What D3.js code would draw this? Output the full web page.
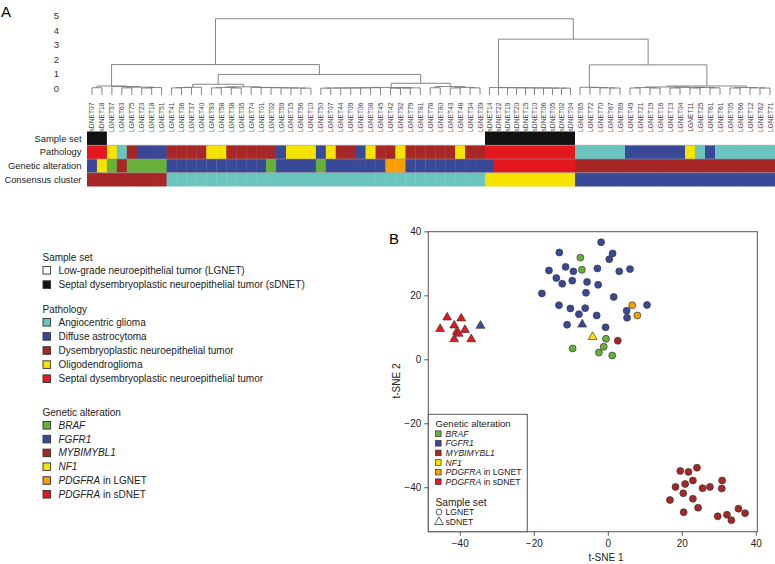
<!DOCTYPE html>
<html>
<head>
<meta charset="utf-8">
<script src="https://cdn.jsdelivr.net/npm/d3@7"></script>
<style>
  body { margin: 0; background: #fff; }
  svg { font-family: "Liberation Sans", Arial, Helvetica, sans-serif; }
</style>
</head>
<body>
<svg id="chart" width="775" height="564"></svg>
<script>
// ---- panel A data ----
const sampleLabels = ["sDNET07","sDNET18","LGNET57","LGNET63","LGNET75","LGNET23","LGNET18","LGNET51","LGNET41","LGNET36",
  "LGNET37","LGNET40","LGNET93","LGNET58","LGNET38","LGNET35","LGNET74","LGNET01","LGNET02","LGNET59",
  "LGNET15","LGNET56","LGNET10","LGNET50","LGNET07","LGNET44","LGNET09","LGNET06","LGNET08","LGNET45",
  "LGNET42","LGNET92","LGNET79","LGNET81","LGNET78","LGNET80","LGNET43","LGNET48","LGNET34","LGNET39",
  "sDNET14","sDNET22","sDNET19","sDNET20","sDNET15","sDNET10","sDNET06","sDNET05","sDNET02","sDNET04",
  "LGNET65","LGNET72","LGNET70","LGNET67","LGNET69","LGNET49","LGNET21","LGNET19","LGNET16","LGNET13",
  "LGNET04","LGNET11","LGNET25","LGNET61","LGNET61","LGNET05","LGNET66","LGNET12","LGNET62","LGNET71"];

// one code per sample (L = LGNET, S = sDNET)
const sampleSet   = "SSLLLLLLLLLLLLLLLLLLLLLLLLLLLLLLLLLLLLLLSSSSSSSSSSLLLLLLLLLLLLLLLLLLLL".split("");
// A angiocentric, F diffuse astro, D DNET, O oligo, S septal DNET
const pathology   = "SSOADFFFDDDDOODDDDDFOOOFODDFODDODDDDDODDSSSSSSSSSSAAAAAFFFFFFOAFAAAAAA".split("");
// B BRAF, F FGFR1, M MYB/MYBL1, N NF1, P PDGFRA LGNET, S PDGFRA sDNET
const genetic     = "FNBMBBBBFFFFFFFFFFBFFFFBFFFFFFPPFFFFFFFFFSSSSSSSSSMMMMMMMMMMMMMMMMMMMM".split("");
// consensus cluster 1..4
const consensus   = "1111111122222222222222222222222222222222333333333344444444444444444444".split("");

// dendrogram: [left, right, height], leaves are column indexes
const clusterL1 = [[0, 1, 0.04], [2, [[3, 4, 0.03], [[5, 6, 0.02], 7, 0.05], 0.08], 0.12], 0.16];
const clusterA2 = [[[[8, 9, 0.03], 10, 0.05], 11, 0.07],
  [[[12, 13, 0.03], [14, 15, 0.02], 0.06], [16, [17, [18, [19, [20, [21, 22, 0.01], 0.02], 0.03], 0.04], 0.05], 0.06], 0.1], 0.28];
const clusterA3 = [[[[[[[[23, 24, 0.01], 25, 0.02], 26, 0.02], 27, 0.03], 28, 0.03], 29, 0.04], [[[30, 31, 0.01], 32, 0.02], 33, 0.03], 0.06],
  [[34, 35, 0.04], [[36, 37, 0.02], [38, 39, 0.03], 0.06], 0.12], 0.35];
const clusterS = [40, [41, [42, [43, [44, [45, [46, [47, [48, 49, 0.01], 0.015], 0.02], 0.025], 0.03], 0.035], 0.04], 0.045], 0.05];
const clusterR3 = [50, [51, [52, [53, 54, 0.02], 0.03], 0.05], 0.07];
const clusterR4 = [[[[55, 56, 0.02], [57, 58, 0.02], 0.05], [[59, 60, 0.02], [[61, 62, 0.02], [63, 64, 0.03], 0.05], 0.07], 0.09],
  [[65, 66, 0.02], [67, [68, 69, 0.02], 0.03], 0.05], 0.16];
const dendroTree = [[clusterL1, [clusterA2, clusterA3, 0.96], 1.64],
                    [clusterS, [clusterR3, clusterR4, 1.62], 3.40], 4.81];
const dendroTicks = [0, 1, 2, 3, 4, 5];

const rowNames = ["Sample set", "Pathology", "Genetic alteration", "Consensus cluster"];

// ---- panel B data (t-SNE) ----
const tsne1 = [-1.8,-13.1,1.3,0.4,-11.4,-9.3,-2.8,3.1,6.0,-15.9,-13.9,-12.3,-9.6,-5.6,-2.6,-17.8,-5.9,1.6,-13.2,-10.1,-6.1,-7.8,-3.0,5.1,5.2,10.6,-11.0,-0.6,
  -7.4,-7.0,-0.5,-9.5,-1.1,-2.4,1.2,
  6.6,8.0,
  2.7,
  19.6,21.8,24.1,23.0,18.3,20.9,25.6,27.6,30.9,30.8,16.8,20.4,23.0,24.4,20.5,29.7,32.2,33.4,35.3,37.1,
  -4.1,
  -6.9,-34.4,
  -43.4,-39.6,-45.3,-41.5,-40.8,-38.6,-41.5,-36.9,-40.3];
const tsne2 = [36.6,33.4,33.1,31.3,28.9,27.5,28.4,27.5,28.2,27.8,25.4,23.6,24.6,24.2,23.3,20.6,20.8,19.5,16.9,15.9,16.0,14.1,13.7,15.2,13.0,17.0,10.8,10.0,
  31.8,28.0,6.4,3.4,3.9,2.1,1.2,
  16.9,13.7,
  5.8,
  -34.9,-35.2,-33.9,-37.9,-39.9,-39.0,-40.3,-39.9,-37.9,-40.4,-44.0,-41.9,-43.6,-46.4,-47.8,-49.1,-48.6,-50.3,-46.7,-48.1,
  7.0,
  10.9,10.5,
  13.1,12.8,9.5,10.6,8.6,9.2,6.3,6.3,8.0];
const tsneAlt = [..."FFFFFFFFFFFFFFFFFFFFFFFFFFFF", ..."BBBBBBB", "P", "P", "M", ..."MMMMMMMMMMMMMMMMMMMM", "N", "F", "F", ..."SSSSSSSSS"];
const tsneSet = [...Array(58).fill("L"), ..."SSSSSSSSSSSS"];
const tsneTicks = [-40, -20, 0, 20, 40];

// ---- colours & legend text ----
const geneColor = { B: "#67b13b", F: "#3a4898", M: "#a72626", N: "#f4e400", P: "#f5a000", S: "#e3171d" };
const pathColor = { A: "#6cc4bf", F: "#3a4898", D: "#a72626", O: "#f4e400", S: "#e3171d" };
const setColor = { L: "#ffffff", S: "#111111" };
const clusterColor = { "1": "#a72626", "2": "#6cc4bf", "3": "#f4e400", "4": "#3a4898" };

const setLegend = [["L", "Low-grade neuroepithelial tumor (LGNET)"], ["S", "Septal dysembryoplastic neuroepithelial tumor (sDNET)"]];
const pathLegend = [["A", "Angiocentric glioma"], ["F", "Diffuse astrocytoma"], ["D", "Dysembryoplastic neuroepithelial tumor"],
  ["O", "Oligodendroglioma"], ["S", "Septal dysembryoplastic neuroepithelial tumor"]];
const geneLegend = [["B", "BRAF", ""], ["F", "FGFR1", ""], ["M", "MYBIMYBL1", ""], ["N", "NF1", ""],
  ["P", "PDGFRA", " in LGNET"], ["S", "PDGFRA", " in sDNET"]];

const svg = d3.select("#chart");

// ---------- panel A ----------
svg.append("text").attr("x", 1).attr("y", 17).style("font-size", "15px").text("A");

const xCol = d3.scaleLinear().domain([0, 40, 50, 70]).range([87, 485, 575, 775]);
const colMid = i => (xCol(i) + xCol(i + 1)) / 2;
const yDen = d3.scaleLinear().domain([0, 5]).range([88.3, 16]);
const leafH = -0.46;

svg.append("g").selectAll("text").data(dendroTicks).join("text")
  .attr("x", 59).attr("y", d => yDen(d)).attr("dy", "0.35em")
  .attr("text-anchor", "end").style("font-size", "9.5px").attr("fill", "#333")
  .text(d => d);

const gDen = svg.append("g").attr("stroke", "#777").attr("stroke-width", 0.9).attr("fill", "none");
function drawNode(n) {
  if (typeof n === "number") return { x: colMid(n), h: leafH };
  const a = drawNode(n[0]), b = drawNode(n[1]), h = n[2];
  const y = yDen(h);
  gDen.append("path").attr("d", `M${a.x},${yDen(a.h)}V${y}H${b.x}V${yDen(b.h)}`);
  return { x: (a.x + b.x) / 2, h: h };
}
drawNode(dendroTree);

svg.append("g").selectAll("text").data(sampleLabels).join("text")
  .attr("transform", (d, i) => `translate(${colMid(i)},102.5)rotate(-90)`)
  .attr("text-anchor", "end").attr("dominant-baseline", "central")
  .style("font-size", "6.7px").attr("fill", "#444")
  .text(d => d);

const yRow = d3.scaleBand().domain(rowNames).range([131.5, 186.5]);
const rowData = [sampleSet.map(k => setColor[k]), pathology.map(k => pathColor[k]),
  genetic.map(k => geneColor[k]), consensus.map(k => clusterColor[k])];
rowNames.forEach((name, r) => {
  svg.append("g").selectAll("rect").data(rowData[r]).join("rect")
    .attr("x", (d, i) => xCol(i)).attr("width", (d, i) => xCol(i + 1) - xCol(i) + 0.3)
    .attr("y", yRow(name)).attr("height", yRow.bandwidth())
    .attr("fill", d => d);
  svg.append("text").attr("x", 81.5).attr("y", yRow(name) + yRow.bandwidth() / 2).attr("dy", "0.35em")
    .attr("text-anchor", "end").style("font-size", "9.4px").attr("fill", "#222").text(name);
});
svg.append("g").selectAll("line").data(rowNames.slice(1)).join("line")
  .attr("x1", 87).attr("x2", 775).attr("y1", d => yRow(d)).attr("y2", d => yRow(d))
  .attr("stroke", "#999").attr("stroke-width", 0.6);

// panel A legend
function legendBlock(title, yTitle, items, colors, step) {
  svg.append("text").attr("x", 42.5).attr("y", yTitle).attr("dy", "0.35em")
    .style("font-size", "10px").attr("fill", "#222").text(title);
  const g = svg.append("g").selectAll("g").data(items).join("g")
    .attr("transform", (d, i) => `translate(0,${yTitle + 13 + i * step})`);
  g.append("rect").attr("x", 43).attr("y", -3.8).attr("width", 7.6).attr("height", 7.6)
    .attr("fill", d => colors[d[0]]).attr("stroke", "#333").attr("stroke-width", 0.9);
  const t = g.append("text").attr("x", 58.5).attr("dy", "0.35em").style("font-size", "10px").attr("fill", "#222");
  t.append("tspan").style("font-style", d => d.length > 2 ? "italic" : null).text(d => d[1]);
  t.append("tspan").text(d => d[2] || "");
}
legendBlock("Sample set", 257.3, setLegend, setColor, 14.3);
legendBlock("Pathology", 309.3, pathLegend, pathColor, 14.1);
legendBlock("Genetic alteration", 412.3, geneLegend, geneColor, 13.8);

// ---------- panel B ----------
svg.append("text").attr("x", 389).attr("y", 244).style("font-size", "15px").text("B");

const xS = d3.scaleLinear().domain([-48.5, 40.4]).range([428.3, 757.3]);
const yS = d3.scaleLinear().domain([-53.9, 39.9]).range([531.7, 231.7]);

const xAxis = svg.append("g").attr("transform", "translate(0,531.7)")
  .call(d3.axisBottom(xS).tickValues(tsneTicks).tickSize(4).tickPadding(4));
const yAxis = svg.append("g").attr("transform", "translate(428.3,0)")
  .call(d3.axisLeft(yS).tickValues(tsneTicks).tickSize(4).tickPadding(3));
[xAxis, yAxis].forEach(a => {
  a.select(".domain").remove();
  a.selectAll("line").attr("stroke", "#555");
  a.selectAll("text").style("font-size", "10px").attr("fill", "#222")
    .style("font-family", "'Liberation Sans', Arial, sans-serif");
});
svg.append("rect").attr("x", 428.3).attr("y", 231.7).attr("width", 329).attr("height", 300)
  .attr("fill", "none").attr("stroke", "#555").attr("stroke-width", 1);
svg.append("text").attr("x", 606).attr("y", 561).attr("text-anchor", "middle")
  .style("font-size", "10px").attr("fill", "#222").text("t-SNE 1");
svg.append("text").attr("transform", "translate(400,381)rotate(-90)").attr("text-anchor", "middle")
  .style("font-size", "10px").attr("fill", "#222").text("t-SNE 2");

const pts = tsne1.map((x, i) => ({ x, y: tsne2[i], alt: tsneAlt[i], set: tsneSet[i] }));
svg.append("g").selectAll("path").data(pts).join("path")
  .attr("transform", d => `translate(${xS(d.x)},${yS(d.y)})`)
  .attr("d", d => d.set === "S" ? d3.symbol(d3.symbolTriangle, 34)() : d3.symbol(d3.symbolCircle, 38)())
  .attr("fill", d => geneColor[d.alt]).attr("stroke", "#3a3a3a").attr("stroke-width", 0.7);

// t-SNE legend
const lg = svg.append("g");
lg.append("rect").attr("x", 428.3).attr("y", 414.3).attr("width", 99).attr("height", 117.4)
  .attr("fill", "#fff").attr("stroke", "#555").attr("stroke-width", 1);
lg.append("text").attr("x", 435.5).attr("y", 424).attr("dy", "0.35em").style("font-size", "9.6px").attr("fill", "#222").text("Genetic alteration");
const li = lg.selectAll("g.item").data(geneLegend).join("g").attr("class", "item")
  .attr("transform", (d, i) => `translate(0,${433.7 + i * 9.6})`);
li.append("rect").attr("x", 435.5).attr("y", -2.8).attr("width", 5.6).attr("height", 5.6)
  .attr("fill", d => geneColor[d[0]]).attr("stroke", "#333").attr("stroke-width", 0.7);
const lt = li.append("text").attr("x", 445.5).attr("dy", "0.35em").style("font-size", "8.6px").attr("fill", "#222");
lt.append("tspan").style("font-style", "italic").text(d => d[1]);
lt.append("tspan").text(d => d[2]);

lg.append("text").attr("x", 435.5).attr("y", 502).attr("dy", "0.35em").style("font-size", "10.2px").attr("fill", "#222").text("Sample set");
const si = lg.selectAll("g.set").data([["L", "LGNET"], ["S", "sDNET"]]).join("g").attr("class", "set")
  .attr("transform", (d, i) => `translate(439,${512 + i * 10})`);
si.append("path").attr("d", d => d[0] === "S" ? d3.symbol(d3.symbolTriangle, 34)() : d3.symbol(d3.symbolCircle, 26)())
  .attr("fill", "none").attr("stroke", "#333").attr("stroke-width", 0.8);
si.append("text").attr("x", 6.5).attr("dy", "0.35em").style("font-size", "8.6px").attr("fill", "#222").text(d => d[1]);
</script>
</body>
</html>
